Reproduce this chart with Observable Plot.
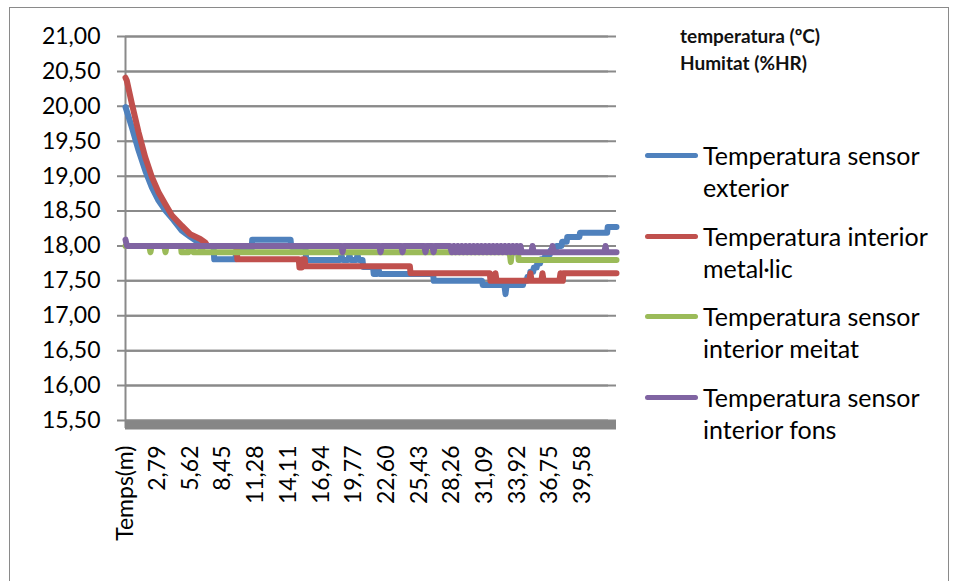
<!DOCTYPE html>
<html>
<head>
<meta charset="utf-8">
<script src="https://cdn.jsdelivr.net/npm/d3@7"></script>
<script src="https://cdn.jsdelivr.net/npm/@observablehq/plot@0.6"></script>
<style>
  html, body { margin: 0; padding: 0; background: #fff; }
  #wrap { position: relative; width: 959px; height: 581px; overflow: hidden; font-family: Lato, "Open Sans", sans-serif; }
  #frame { position: absolute; left: 9px; top: 7px; width: 940px; height: 590px; border: 1.5px solid #8a8a8a; box-sizing: border-box; pointer-events: none; }
  .sw { position: absolute; left: 645px; width: 53px; height: 5px; border-radius: 3px; }
  .lg { position: absolute; left: 703px; font-size: 25px; line-height: 32px; color: #000; white-space: nowrap; }
  .units { position: absolute; left: 680px; top: 22px; font-size: 19px; line-height: 27px; font-weight: 700; color: #111; white-space: nowrap; }
</style>
</head>
<body>
<div id="wrap"><div id="frame"></div></div>
<script>
// ---- data ----
const seriesNames = ["Temperatura sensor exterior", "Temperatura interior metal·lic", "Temperatura sensor interior meitat", "Temperatura sensor interior fons"];
const legendLines = [["Temperatura sensor", "exterior"], ["Temperatura interior", "metal·lic"], ["Temperatura sensor", "interior meitat"], ["Temperatura sensor", "interior fons"]];
const seriesColors = ["#4F81BD", "#C0504D", "#9BBB59", "#8064A2"];
const unitLines = ["temperatura (ºC)", "Humitat (%HR)"];

const xTickValues = [0, 2.79, 5.62, 8.45, 11.28, 14.11, 16.94, 19.77, 22.60, 25.43, 28.26, 31.09, 33.92, 36.75, 39.58];
const xTickLabels = ["Temps(m)", "2,79", "5,62", "8,45", "11,28", "14,11", "16,94", "19,77", "22,60", "25,43", "28,26", "31,09", "33,92", "36,75", "39,58"];
const yTicks = [15.5, 16, 16.5, 17, 17.5, 18, 18.5, 19, 19.5, 20, 20.5, 21];

// [time (min), temperature (ºC)]
const tempExterior = [
  [0,19.99],[0.55,19.70],[1.13,19.37],[1.71,19.08],[2.28,18.84],[2.86,18.65],[3.44,18.51],[4.16,18.37],[4.87,18.22],[5.60,18.13],[6.32,18.05],[6.49,18.00],
  [7.62,18.00],[7.68,17.81],[9.52,17.81],[9.58,17.93],[10.91,17.93],[10.97,18.09],[14.29,18.09],[14.35,17.99],[15.58,17.99],[15.64,17.80],
  [18.60,17.80],[18.70,17.87],[18.80,17.80],[19.29,17.80],[19.39,17.87],[19.49,17.80],[19.99,17.80],[20.09,17.87],[20.19,17.80],
  [20.52,17.80],[20.58,17.70],[21.43,17.70],[21.49,17.60],[21.80,17.60],[21.90,17.68],[22.00,17.60],[26.63,17.60],[26.69,17.50],
  [30.87,17.50],[30.93,17.44],[32.80,17.44],[32.90,17.31],[33.00,17.44],[34.42,17.44],
  [34.48,17.50],[34.75,17.50],[34.80,17.56],[35.00,17.56],[35.05,17.63],[35.30,17.63],[35.35,17.69],[35.60,17.69],[35.65,17.75],[35.90,17.75],
  [35.95,17.81],[36.30,17.81],[36.35,17.88],[36.75,17.88],[36.80,17.94],[37.25,17.94],[37.30,18.00],[37.75,18.00],[37.80,18.06],[38.20,18.06],
  [38.25,18.13],[39.30,18.13],[39.35,18.19],[41.70,18.19],[41.75,18.27],[42.51,18.27]
];
const tempMetal = [
  [0,20.41],[0.11,20.37],[0.55,20.04],[1.13,19.63],[1.71,19.27],[2.28,18.99],[2.86,18.77],[3.44,18.60],[4.01,18.44],[4.87,18.29],[5.60,18.17],[6.47,18.10],[6.90,18.05],[7.10,18.00],
  [9.62,18.00],[9.68,17.81],[15.00,17.81],[15.06,17.69],[15.26,17.69],[15.32,17.81],[15.52,17.81],[15.58,17.71],[24.62,17.71],[24.68,17.61],[31.54,17.61],[31.60,17.50],
  [31.93,17.50],[32.03,17.61],[32.13,17.50],[34.96,17.50],[35.06,17.61],[35.16,17.50],[36.00,17.50],[36.10,17.61],[36.20,17.50],
  [37.56,17.50],[37.66,17.61],[37.76,17.50],[37.86,17.50],[37.92,17.61],[42.51,17.61]
];
const tempMeitat = [
  [0,18.00],[2.06,18.00],[2.16,17.91],[2.26,18.00],[3.36,18.00],[3.46,17.91],[3.56,18.00],[4.80,18.00],[4.85,17.91],[5.45,17.91],[5.50,18.00],
  [5.84,18.00],[5.89,17.91],[6.49,17.91],[6.54,18.00],[6.62,18.00],[6.67,17.91],
  [33.26,17.91],[33.36,17.77],[33.46,17.91],[33.98,17.91],[34.04,17.80],[42.51,17.80]
];
const tempFons = [
  [0,18.09],[0.12,18.00],
  [18.69,18.00],[18.79,17.91],[18.89,18.00],[21.98,18.00],[22.08,17.91],[22.18,18.00],[23.88,18.00],[23.98,17.91],[24.08,18.00],
  [25.87,18.00],[25.97,17.91],[26.07,18.00],[26.57,18.00],[26.67,17.91],[26.77,18.00],
  [28.10,18.00],[28.25,17.91],[28.42,18.00],[28.59,17.91],[28.76,18.00],[28.93,17.91],[29.10,18.00],[29.27,17.91],[29.44,18.00],[29.61,17.91],
  [29.78,18.00],[29.95,17.91],[30.12,18.00],[30.29,17.91],[30.46,18.00],[30.63,17.91],[30.80,18.00],[30.97,17.91],[31.14,18.00],[31.31,17.91],
  [31.48,18.00],[31.65,17.91],[31.82,18.00],[31.99,17.91],[32.16,18.00],[32.33,17.91],[32.50,18.00],[32.67,17.91],[32.84,18.00],[33.01,17.91],
  [33.18,18.00],[33.35,17.91],[33.52,18.00],[33.69,17.91],[33.86,18.00],[34.00,17.91],
  [34.10,17.91],[34.20,18.00],[34.30,17.91],[35.14,17.91],[35.24,18.00],[35.34,17.91],[36.87,17.91],[36.97,18.00],[37.07,17.91],
  [41.46,17.91],[41.56,18.00],[41.66,17.91],[42.51,17.91]
];

const seriesData = [tempExterior, tempMetal, tempMeitat, tempFons];
const fmt = d => d.toFixed(2).replace(".", ",");
const grid = "#8a8a8a";

const lineMarks = seriesData.map((arr, i) =>
  Plot.line(arr, {x: d => d[0], y: d => d[1], stroke: seriesColors[i], strokeWidth: 6, strokeLinecap: "round", strokeLinejoin: "round"})
);

const chart = Plot.plot({
  width: 959,
  height: 581,
  marginLeft: 125,
  marginRight: 343,
  marginTop: 36,
  marginBottom: 161,
  style: {fontFamily: "Lato, 'Open Sans', sans-serif", fontSize: "23px", color: "#000", background: "transparent", overflow: "visible"},
  x: {domain: [0, 42.51], ticks: xTickValues, tickFormat: d => xTickLabels[xTickValues.indexOf(d)], tickRotate: -90, tickSize: 0, tickPadding: 25, label: null},
  y: {domain: [15.5, 21], ticks: yTicks, tickFormat: fmt, tickSize: 0, tickPadding: 25, label: null},
  marks: [
    Plot.ruleY(yTicks, {stroke: grid, strokeWidth: 2}),
    Plot.ruleY(yTicks, {stroke: grid, strokeWidth: 2, dx: -8}),
    Plot.ruleX([0], {stroke: grid, strokeWidth: 2, insetBottom: -8}),
    Plot.ruleY([15.5], {stroke: "#868686", strokeWidth: 9, dy: 4.5}),
    ...lineMarks
  ]
});
const wrap = document.getElementById("wrap");
chart.style.position = "absolute";
chart.style.left = "0px";
chart.style.top = "0px";
wrap.appendChild(chart);

// units note
const units = document.createElement("div");
units.className = "units";
units.innerHTML = unitLines.join("<br>");
wrap.appendChild(units);

// legend
const legendY = [155, 236, 316, 397];
legendLines.forEach((lines, i) => {
  const sw = document.createElement("div");
  sw.className = "sw";
  sw.style.top = (legendY[i] - 2.5) + "px";
  sw.style.background = seriesColors[i];
  sw.title = seriesNames[i];
  wrap.appendChild(sw);
  const t = document.createElement("div");
  t.className = "lg";
  t.style.top = (legendY[i] - 16) + "px";
  t.innerHTML = lines.join("<br>");
  wrap.appendChild(t);
});
</script>
</body>
</html>
